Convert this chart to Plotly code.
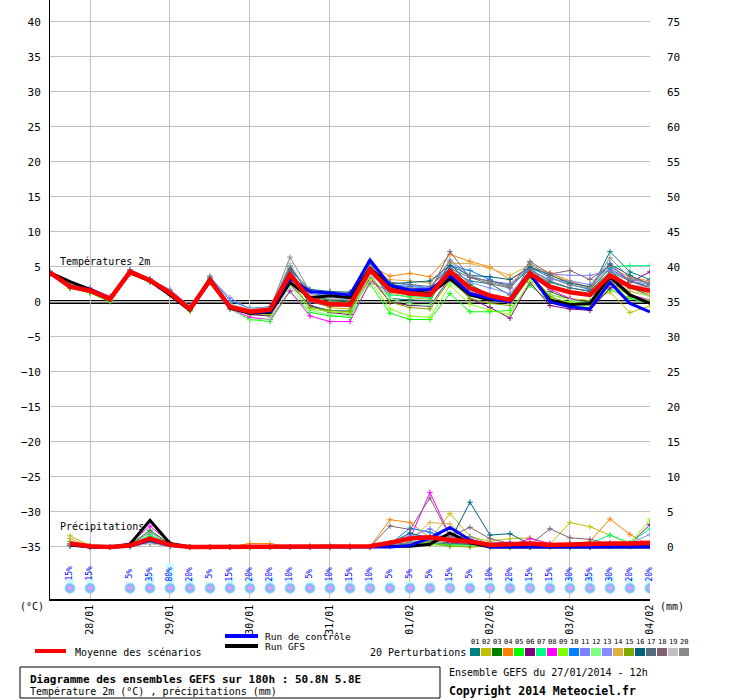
import pandas as pd
import plotly.graph_objects as go

# run GEFS du 27/01/2014 12h, pas de 6h jusqu'a 180h
run_start = pd.Timestamp("2014-01-27 12:00")
lead_hours = [0, 6, 12, 18, 24, 30, 36, 42, 48, 54, 60, 66, 72, 78, 84, 90,
              96, 102, 108, 114, 120, 126, 132, 138, 144, 150, 156, 162, 168, 174, 180]
day_labels = ["28/01", "29/01", "30/01", "31/01", "01/02", "02/02", "03/02", "04/02"]

# temperatures 2m (degC)
temp_mean = [4.2, 2.2, 1.6, 0.4, 4.3, 3.1, 1.3, -1.0, 3.1, -0.7, -1.4, -1.1, 3.9, 0.4, -0.3, -0.4,
             4.6, 1.7, 1.2, 1.0, 4.4, 2.0, 0.9, 0.3, 4.1, 2.2, 1.4, 1.0, 3.8, 2.2, 1.6]
temp_gfs = [4.2, 2.9, 1.8, 0.5, 4.2, 3.0, 1.0, -1.2, 3.3, -0.9, -1.6, -1.5, 2.8, 0.6, 0.9, 0.6,
            4.8, 2.4, 1.5, 1.2, 3.3, 1.0, 0.3, 0.3, 3.9, 0.3, -0.4, -0.2, 3.6, 1.0, -0.2]
temp_ctrl = [4.1, 2.3, 1.7, 0.3, 4.4, 3.0, 1.2, -1.1, 3.0, -0.8, -1.5, -1.3, 3.4, 1.5, 1.3, 1.0,
             6.0, 2.4, 1.7, 1.8, 3.8, 1.2, 0.5, 0.0, 4.1, 0.0, -0.7, -1.0, 2.8, -0.2, -1.4]
temp_01 = [4.0, 2.0, 1.5, 0.3, 4.2, 3.2, 1.4, -1.1, 3.2, -0.5, -1.8, -1.6, 4.5, -0.5, -1.2, -1.3,
           4.9, 0.5, 0.3, 0.2, 4.5, 3.0, 2.6, 1.0, 4.2, 2.8, 2.0, 1.5, 7.2, 4.3, 3.2]
temp_02 = [4.0, 2.1, 1.6, 0.4, 4.1, 3.0, 1.3, -1.1, 3.0, -0.6, -1.5, -1.3, 3.5, 0.2, -0.8, -1.0,
           4.2, 1.3, 0.6, 0.4, 4.0, 1.5, 0.5, -0.2, 3.8, 1.0, 0.5, 0.2, 1.4, -1.5, -0.6]
temp_03 = [4.2, 2.1, 1.5, 0.5, 4.5, 3.2, 1.5, -0.9, 3.4, -0.5, -1.3, -1.0, 5.2, 0.8, 0.2, 0.0,
           5.7, 2.2, 1.0, 0.8, 5.5, 2.5, 1.0, 0.2, 5.3, 1.5, 0.4, 0.0, 4.5, 2.0, 1.0]
temp_04 = [3.9, 2.0, 1.4, 0.3, 4.2, 3.0, 1.5, -0.9, 2.8, -0.4, -1.0, -0.7, 4.8, 1.5, 1.2, 1.3,
           5.2, 3.7, 4.1, 3.6, 6.8, 5.8, 5.0, 3.2, 4.8, 4.2, 3.0, 2.0, 5.0, 3.5, 3.0]
temp_05 = [4.0, 2.0, 1.3, 0.0, 4.0, 2.8, 1.0, -1.3, 2.7, -1.0, -2.5, -2.8, 1.5, -1.5, -2.0, -2.2,
           2.6, -1.6, -2.5, -2.5, 1.2, -1.4, -1.4, -1.2, 2.4, 0.0, -0.5, -0.8, 1.8, 0.5, -0.2]
temp_06 = [4.1, 2.2, 1.7, 0.5, 4.3, 3.1, 1.3, -1.0, 3.0, -0.9, -1.8, -2.0, 2.5, -0.5, -1.5, -1.8,
           3.5, 0.0, -0.5, -0.6, 3.5, 0.5, -0.8, -2.3, 2.8, -0.5, -1.0, -1.2, 2.0, 2.8, 4.3]
temp_07 = [4.2, 2.3, 1.8, 0.6, 4.4, 3.2, 1.4, -0.8, 3.3, -0.3, -1.2, -1.0, 4.0, 0.5, 0.0, -0.2,
           4.3, 1.0, 0.8, 0.6, 4.0, 1.8, 1.0, 0.5, 4.0, 2.0, 1.5, 1.2, 5.0, 5.2, 5.2]
temp_08 = [4.0, 2.2, 2.0, 0.8, 4.0, 2.9, 1.2, -1.2, 2.8, -1.0, -2.2, -2.5, 1.6, -2.0, -2.8, -2.8,
           2.9, 1.5, 1.8, 1.6, 3.6, 1.4, 0.8, 0.5, 3.8, 1.8, 0.5, -0.3, 3.2, 1.0, 0.3]
temp_09 = [4.1, 2.0, 1.4, 0.2, 4.1, 2.9, 1.1, -1.2, 3.0, -0.8, -1.6, -1.8, 3.0, -1.0, -1.4, -1.6,
           3.2, -1.0, -2.0, -2.2, 2.4, -0.3, -1.2, -1.8, 3.0, 0.6, 0.0, -0.3, 2.6, 0.8, 0.2]
temp_10 = [4.3, 2.4, 1.8, 0.5, 4.6, 3.3, 1.6, -0.8, 3.6, 0.2, -0.9, -0.7, 5.0, 1.2, 0.9, 0.8,
           5.8, 2.5, 2.2, 2.0, 5.2, 4.5, 3.2, 2.0, 5.0, 3.5, 2.5, 1.8, 4.8, 3.0, 2.0]
temp_11 = [4.2, 2.2, 1.7, 0.5, 4.5, 3.2, 1.8, -0.6, 3.5, 0.6, -1.0, -0.8, 4.2, 0.0, -0.5, -0.6,
           5.3, 2.8, 2.4, 2.0, 5.8, 3.5, 3.0, 2.6, 5.0, 4.0, 3.8, 3.8, 4.5, 3.2, 2.8]
temp_12 = [4.0, 2.1, 1.6, 0.3, 4.2, 3.0, 1.2, -1.0, 3.0, -0.9, -2.6, -2.4, 2.2, -1.2, -1.8, -2.0,
           3.8, 0.5, -0.3, -0.5, 2.8, 0.8, 0.5, 0.2, 3.4, 1.0, 0.3, -0.2, 3.0, 1.5, 0.8]
temp_13 = [4.1, 2.2, 1.6, 0.4, 4.3, 3.1, 1.5, -0.8, 3.3, -0.6, -1.2, -1.0, 4.4, 0.8, 0.5, 0.3,
           4.8, 2.0, 1.5, 1.3, 5.0, 2.8, 2.0, 1.2, 4.5, 3.2, 3.0, 2.5, 5.5, 3.0, 2.5]
temp_14 = [4.2, 2.3, 1.7, 0.6, 4.4, 3.2, 1.6, -0.7, 3.4, -0.4, -1.1, -0.9, 4.0, 1.0, 0.8, 0.7,
           4.5, 3.2, 3.0, 2.7, 5.5, 5.5, 4.8, 3.8, 5.3, 4.0, 2.8, 2.0, 3.5, 1.5, 1.0]
temp_15 = [4.0, 2.0, 1.5, 0.2, 4.1, 2.9, 1.2, -1.1, 2.9, -0.8, -1.7, -1.6, 3.2, -0.8, -1.2, -1.4,
           3.9, 0.0, -0.8, -1.0, 3.2, 0.5, -0.2, -0.5, 3.6, 0.8, -0.3, -0.5, 3.0, 0.8, 0.0]
temp_16 = [4.3, 2.4, 1.7, 0.5, 4.4, 3.1, 1.4, -0.9, 3.2, -0.6, -1.3, -1.2, 4.6, 1.8, 1.5, 1.4,
           5.5, 2.6, 2.8, 3.0, 5.2, 3.8, 3.6, 3.2, 5.0, 3.8, 2.7, 2.2, 5.4, 3.8, 2.5]
temp_17 = [4.2, 2.2, 1.6, 0.4, 4.4, 3.1, 1.3, -1.0, 3.1, -0.7, -1.5, -1.3, 4.2, 0.9, 0.3, 0.2,
           4.6, 2.8, 2.5, 2.2, 4.8, 3.5, 3.0, 2.4, 4.6, 3.0, 2.0, 1.6, 4.3, 3.0, 2.2]
temp_18 = [4.1, 2.1, 1.6, 0.5, 4.3, 3.0, 1.2, -1.0, 3.0, -0.7, -1.4, -1.2, 4.8, 0.0, -0.6, -0.5,
           5.0, 2.0, 1.6, 1.5, 7.2, 3.5, 2.6, 2.0, 5.8, 4.0, 4.5, 3.2, 5.2, 3.0, 2.0]
temp_19 = [4.3, 2.5, 1.8, 0.7, 4.5, 3.3, 1.5, -0.7, 3.5, -0.3, -1.0, -0.8, 5.5, 1.0, 0.5, 0.4,
           3.8, 1.8, 1.5, 1.2, 3.0, 1.5, 1.0, 0.5, 4.0, 2.0, 1.5, 1.0, 4.0, 2.5, 2.0]
temp_20 = [4.4, 2.3, 1.7, 0.6, 4.6, 3.3, 1.6, -0.8, 3.7, -0.5, -1.2, -1.0, 6.4, 1.5, 1.0, 0.9,
           5.2, 2.5, 2.0, 1.8, 6.0, 3.8, 2.8, 2.2, 5.6, 3.5, 2.4, 2.0, 6.3, 3.4, 2.6]

# precipitations (mm / 6h)
rain_mean = [None, 0.5, 0.1, 0.0, 0.2, 1.2, 0.3, 0.0, 0.0, 0.0, 0.0, 0.0, 0.0, 0.0, 0.0, 0.0,
             0.1, 0.6, 1.2, 1.4, 1.0, 0.8, 0.3, 0.4, 0.5, 0.3, 0.4, 0.4, 0.5, 0.5, 0.6]
rain_gfs = [None, 0.3, 0.0, 0.0, 0.4, 3.8, 0.5, 0.0, 0.0, 0.0, 0.0, 0.0, 0.0, 0.0, 0.0, 0.0,
            0.0, 0.0, 0.1, 0.4, 2.0, 0.6, 0.0, 0.0, 0.0, 0.0, 0.0, 0.0, 0.0, 0.0, 0.0]
rain_ctrl = [None, 0.4, 0.0, 0.0, 0.1, 1.0, 0.2, 0.0, 0.0, 0.0, 0.0, 0.0, 0.0, 0.0, 0.0, 0.0,
             0.0, 0.0, 0.2, 1.3, 2.8, 1.0, 0.0, 0.0, 0.0, 0.0, 0.0, 0.0, 0.0, 0.0, 0.0]
rain_01 = [None, 0.3, 0.0, 0.0, 0.2, 0.9, 0.2, 0.0, 0.0, 0.0, 0.0, 0.0, 0.0, 0.0, 0.0, 0.0,
           0.0, 0.6, 1.0, 1.6, 0.7, 0.5, 0.3, 0.1, 0.0, 0.1, 0.0, 0.1, 0.2, 0.1, 0.2]
rain_02 = [None, 1.6, 0.2, 0.0, 0.1, 0.6, 0.3, 0.0, 0.0, 0.0, 0.0, 0.0, 0.0, 0.0, 0.0, 0.0,
           0.0, 0.2, 0.6, 1.0, 4.8, 1.5, 0.8, 1.2, 1.3, 0.4, 3.5, 2.9, 1.7, 0.4, 0.3]
rain_03 = [None, 0.5, 0.0, 0.0, 0.3, 2.4, 0.4, 0.0, 0.0, 0.0, 0.0, 0.0, 0.0, 0.0, 0.0, 0.0,
           0.0, 0.2, 0.5, 0.8, 0.3, 0.2, 0.1, 0.0, 0.0, 0.1, 0.1, 0.0, 0.2, 0.1, 0.1]
rain_04 = [None, 0.2, 0.0, 0.0, 0.1, 0.8, 0.2, 0.0, 0.0, 0.0, 0.5, 0.5, 0.0, 0.0, 0.0, 0.0,
           0.0, 3.9, 3.5, 1.3, 0.6, 0.3, 0.2, 0.1, 0.3, 0.2, 0.4, 0.8, 4.0, 1.8, 0.2]
rain_05 = [None, 0.4, 0.1, 0.0, 0.2, 1.5, 0.3, 0.0, 0.0, 0.0, 0.0, 0.0, 0.0, 0.0, 0.0, 0.0,
           0.0, 0.1, 0.4, 0.6, 0.2, 0.2, 0.0, 0.1, 0.2, 0.0, 0.1, 0.1, 0.3, 0.5, 0.2]
rain_06 = [None, 0.3, 0.0, 0.0, 0.1, 1.0, 0.2, 0.0, 0.0, 0.0, 0.0, 0.0, 0.0, 0.0, 0.0, 0.0,
           0.0, 0.1, 0.3, 0.4, 0.6, 0.3, 0.2, 0.1, 0.0, 0.1, 0.5, 0.6, 0.3, 0.4, 3.2]
rain_07 = [None, 0.3, 0.0, 0.0, 0.2, 1.8, 0.3, 0.0, 0.0, 0.0, 0.0, 0.0, 0.0, 0.0, 0.0, 0.0,
           0.0, 0.1, 0.3, 0.5, 0.4, 0.3, 0.1, 0.0, 0.1, 0.2, 0.3, 0.5, 1.7, 0.6, 2.6]
rain_08 = [None, 0.4, 0.1, 0.0, 0.5, 3.0, 0.6, 0.0, 0.0, 0.0, 0.0, 0.0, 0.0, 0.0, 0.0, 0.0,
           0.0, 0.2, 1.2, 7.8, 1.6, 0.6, 0.4, 0.2, 1.2, 0.5, 0.2, 0.1, 0.3, 0.2, 0.4]
rain_09 = [None, 0.5, 0.0, 0.0, 0.2, 1.3, 0.2, 0.0, 0.0, 0.0, 0.0, 0.0, 0.0, 0.0, 0.0, 0.0,
           0.0, 0.1, 0.2, 0.3, 0.2, 0.1, 0.0, 0.0, 0.1, 0.1, 0.2, 0.1, 0.3, 0.6, 3.9]
rain_10 = [None, 0.2, 0.0, 0.0, 0.2, 1.2, 0.3, 0.0, 0.0, 0.0, 0.0, 0.0, 0.0, 0.0, 0.0, 0.0,
           0.0, 0.4, 2.7, 2.1, 1.0, 0.4, 0.3, 0.1, 0.2, 0.1, 0.0, 0.1, 0.2, 0.3, 0.5]
rain_11 = [None, 0.3, 0.0, 0.0, 0.1, 0.9, 0.2, 0.0, 0.0, 0.0, 0.0, 0.0, 0.0, 0.2, 0.3, 0.2,
           0.0, 0.3, 1.5, 2.6, 1.0, 0.5, 0.6, 0.7, 0.4, 0.2, 0.3, 0.2, 0.5, 0.3, 0.4]
rain_12 = [None, 0.4, 0.0, 0.0, 0.1, 0.7, 0.2, 0.0, 0.0, 0.0, 0.0, 0.0, 0.0, 0.0, 0.0, 0.0,
           0.0, 0.1, 0.3, 0.5, 0.1, 0.1, 0.2, 0.3, 0.2, 0.0, 0.1, 0.2, 0.1, 0.3, 0.6]
rain_13 = [None, 0.2, 0.0, 0.0, 0.2, 0.8, 0.2, 0.0, 0.0, 0.0, 0.0, 0.0, 0.0, 0.0, 0.0, 0.0,
           0.0, 0.2, 1.8, 1.5, 0.8, 0.9, 0.2, 0.4, 0.3, 0.2, 0.2, 0.4, 0.6, 0.5, 1.8]
rain_14 = [None, 1.2, 0.1, 0.0, 0.1, 0.5, 0.1, 0.0, 0.0, 0.0, 0.0, 0.0, 0.0, 0.0, 0.0, 0.0,
           0.0, 0.3, 1.0, 3.5, 3.3, 0.8, 0.5, 0.3, 0.2, 0.1, 0.1, 0.2, 0.3, 0.2, 0.1]
rain_15 = [None, 0.8, 0.1, 0.0, 0.1, 0.6, 0.2, 0.0, 0.0, 0.0, 0.0, 0.0, 0.0, 0.0, 0.0, 0.0,
           0.0, 0.2, 0.4, 0.6, 0.1, 0.0, 0.1, 0.0, 0.1, 0.1, 0.0, 0.1, 0.2, 0.1, 0.3]
rain_16 = [None, 0.3, 0.0, 0.0, 0.1, 0.6, 0.1, 0.0, 0.0, 0.0, 0.0, 0.0, 0.0, 0.0, 0.0, 0.0,
           0.0, 0.5, 2.0, 1.2, 0.8, 6.4, 1.7, 1.9, 0.4, 0.2, 0.1, 0.0, 0.1, 0.2, 0.3]
rain_17 = [None, 0.2, 0.0, 0.0, 0.1, 0.7, 0.2, 0.0, 0.0, 0.0, 0.0, 0.0, 0.0, 0.0, 0.0, 0.0,
           0.0, 0.3, 0.7, 1.0, 0.5, 0.4, 0.2, 0.1, 0.1, 0.1, 0.1, 0.0, 0.2, 0.2, 0.2]
rain_18 = [None, 0.3, 0.0, 0.0, 0.2, 0.9, 0.3, 0.0, 0.0, 0.0, 0.0, 0.0, 0.0, 0.0, 0.0, 0.0,
           0.0, 3.0, 2.5, 7.0, 1.5, 2.8, 1.2, 0.5, 0.3, 2.6, 1.3, 1.1, 0.4, 0.2, 0.5]
rain_19 = [None, 0.4, 0.0, 0.0, 0.1, 0.5, 0.1, 0.0, 0.0, 0.0, 0.0, 0.0, 0.0, 0.0, 0.0, 0.0,
           0.0, 0.1, 0.3, 0.5, 0.9, 1.2, 0.3, 0.2, 0.1, 0.0, 0.1, 0.1, 0.2, 0.1, 0.1]
rain_20 = [None, 0.5, 0.1, 0.0, 0.3, 2.1, 0.4, 0.0, 0.0, 0.0, 0.0, 0.0, 0.0, 0.0, 0.0, 0.0,
           0.0, 0.2, 0.5, 0.9, 1.4, 1.5, 0.4, 0.2, 0.5, 0.4, 0.2, 0.1, 0.3, 0.3, 0.3]

# probabilite de neige (%)
snow_pct = [None, 15, 15, None, 5, 35, 80, 20, 5, 15, 20, 20, 10, 5, 10, 15,
            10, 5, 5, 5, 15, 5, 10, 20, 15, 15, 30, 35, 30, 20, 20]

member_names = ["01", "02", "03", "04", "05", "06", "07", "08", "09", "10",
                "11", "12", "13", "14", "15", "16", "17", "18", "19", "20"]
member_colors = ["#008080", "#c0c000", "#008000", "#ff8000", "#00ff00", "#800080", "#00ff80",
                 "#ff00ff", "#80ff00", "#0080ff", "#8080ff", "#80ff80", "#8888ff", "#e0b040",
                 "#80a800", "#006080", "#507080", "#806070", "#c0c0c0", "#888888"]

temp_members = [temp_01, temp_02, temp_03, temp_04, temp_05, temp_06, temp_07, temp_08, temp_09, temp_10,
                temp_11, temp_12, temp_13, temp_14, temp_15, temp_16, temp_17, temp_18, temp_19, temp_20]
rain_members = [rain_01, rain_02, rain_03, rain_04, rain_05, rain_06, rain_07, rain_08, rain_09, rain_10,
                rain_11, rain_12, rain_13, rain_14, rain_15, rain_16, rain_17, rain_18, rain_19, rain_20]

times = [run_start + pd.Timedelta(hours=h) for h in lead_hours]

FONT = "DejaVu Sans Mono"
W, H = 740, 700
ML, MR, MT, MB = 50, 90, 0, 101


def px(x):
    return (x - ML) / (W - ML - MR)


def py(y):
    return (H - MB - y) / (H - MT - MB)


fig = go.Figure()

for vals, col in zip(temp_members, member_colors):
    fig.add_trace(go.Scatter(x=times, y=vals, mode="lines+markers", line=dict(color=col, width=1),
                             marker=dict(symbol="cross-thin", size=4, line=dict(color=col, width=1))))
for vals, col in zip(rain_members, member_colors):
    fig.add_trace(go.Scatter(x=times, y=vals, yaxis="y2", mode="lines+markers",
                             line=dict(color=col, width=1),
                             marker=dict(symbol="cross-thin", size=4, line=dict(color=col, width=1))))

fig.add_trace(go.Scatter(x=times, y=temp_gfs, mode="lines", line=dict(color="black", width=3)))
fig.add_trace(go.Scatter(x=times, y=temp_ctrl, mode="lines", line=dict(color="#0000ff", width=3)))
fig.add_trace(go.Scatter(x=times, y=rain_gfs, yaxis="y2", mode="lines", line=dict(color="black", width=3)))
fig.add_trace(go.Scatter(x=times, y=rain_ctrl, yaxis="y2", mode="lines", line=dict(color="#0000ff", width=3)))
fig.add_trace(go.Scatter(x=times, y=temp_mean, mode="lines", line=dict(color="#ff0000", width=4.5)))
fig.add_trace(go.Scatter(x=times, y=rain_mean, yaxis="y2", mode="lines", line=dict(color="#ff0000", width=4.5)))

# snow probability: cyan bar, blue text, snowflake
snow_t = [t for t, p in zip(times, snow_pct) if p is not None]
snow_v = [p for p in snow_pct if p is not None]
fig.add_trace(go.Bar(x=snow_t, y=[p / 28 for p in snow_v], base=-40.15, width=8640000,
                     marker=dict(color="#ccffff", line=dict(width=0))))
fig.add_trace(go.Scatter(x=snow_t, y=[-40.9] * len(snow_t), mode="markers",
                         marker=dict(symbol="circle", size=10, color="#5ac8f0",
                                     line=dict(color="#a0d8f8", width=1))))
fig.add_trace(go.Scatter(x=snow_t, y=[-40.9] * len(snow_t), mode="markers",
                         marker=dict(symbol="asterisk-open", size=7, line=dict(color="#d8f0ff", width=1))))

annotations = []
for t, p in zip(snow_t, snow_v):
    annotations.append(dict(x=t, y=-38.8, xref="x", yref="y", text=f"{p}%", textangle=-90,
                            showarrow=False, font=dict(family=FONT, size=8, color="#0000ff")))


def label(x, y, text, size=10, bold=False, anchor="left"):
    if bold:
        text = f"<b>{text}</b>"
    annotations.append(dict(x=px(x), y=py(y), xref="paper", yref="paper", text=text, showarrow=False,
                            xanchor=anchor, yanchor="middle", font=dict(family=FONT, size=size, color="black")))


label(58, 261, "Températures 2m")
label(58, 526, "Précipitations")
label(18, 606, "(°C)")
label(658, 606, "(mm)")
label(73, 652, "Moyenne des scénarios")
label(263, 636, "Run de contrôle", size=9.5)
label(263, 647, "Run GFS", size=9.5)
label(368, 652, "20 Perturbations")
label(28, 679, "Diagramme des ensembles GEFS sur 180h : 50.8N 5.8E", size=11, bold=True)
label(28, 691, "Température 2m (°C) , précipitations (mm)")
label(447, 672, "Ensemble GEFS du 27/01/2014 - 12h")
label(447, 691, "Copyright 2014 Meteociel.fr", size=11.5, bold=True)

shapes = [
    dict(type="line", xref="paper", yref="y", x0=0, x1=1, y0=0, y1=0, layer="between",
         line=dict(color="black", width=4)),
    dict(type="line", xref="paper", yref="y", x0=0, x1=1, y0=0, y1=0, layer="between",
         line=dict(color="white", width=1)),
    dict(type="line", xref="paper", yref="paper", x0=px(35), x1=px(66), y0=py(651), y1=py(651),
         line=dict(color="#ff0000", width=4)),
    dict(type="line", xref="paper", yref="paper", x0=px(225), x1=px(258), y0=py(636), y1=py(636),
         line=dict(color="#0000ff", width=4)),
    dict(type="line", xref="paper", yref="paper", x0=px(225), x1=px(258), y0=py(646), y1=py(646),
         line=dict(color="black", width=4)),
    dict(type="rect", xref="paper", yref="paper", x0=px(20), x1=px(440), y0=py(667), y1=py(698),
         line=dict(color="black", width=1)),
]
for k, (name, col) in enumerate(zip(member_names, member_colors)):
    x0 = 470 + 11 * k
    shapes.append(dict(type="rect", xref="paper", yref="paper", x0=px(x0), x1=px(x0 + 10),
                       y0=py(648), y1=py(656), fillcolor=col, line=dict(width=0)))
    annotations.append(dict(x=px(x0 + 5), y=py(642), xref="paper", yref="paper", text=name,
                            showarrow=False, xanchor="center", yanchor="middle",
                            font=dict(family=FONT, size=7, color="black")))

ymin, ymax = -42.43, 43.14
tick_days = pd.date_range("2014-01-28", periods=len(day_labels), freq="D")

fig.update_layout(
    width=W, height=H, margin=dict(l=ML, r=MR, t=MT, b=MB, pad=0),
    paper_bgcolor="white", plot_bgcolor="white", showlegend=False, hovermode=False,
    font=dict(family=FONT, size=11, color="black"),
    xaxis=dict(type="date", range=[run_start, pd.Timestamp("2014-02-04 00:01")],
               tickvals=list(tick_days), ticktext=day_labels, tickangle=-90,
               tickfont=dict(family=FONT, size=10), showgrid=True, gridcolor="#c0c0c0", gridwidth=1,
               showline=True, linecolor="black", linewidth=1.5, zeroline=False, ticks=""),
    yaxis=dict(range=[ymin, ymax], tickvals=list(range(-35, 45, 5)), showgrid=True,
               gridcolor="#c0c0c0", gridwidth=1, zeroline=False, showline=True, linecolor="black",
               linewidth=1, ticks="", ticklabelstandoff=6, tickfont=dict(family=FONT, size=11)),
    yaxis2=dict(range=[ymin + 35, ymax + 35], tickvals=list(range(0, 80, 5)), overlaying="y",
                side="right", showgrid=False, zeroline=False, showline=False, ticks="",
                ticklabelstandoff=16, tickfont=dict(family=FONT, size=11)),
    shapes=shapes, annotations=annotations,
)

# la page par defaut a une marge de 8px autour du graphique
fig.write_html("out.html", config={"displayModeBar": False},
               post_script="document.body.style.margin = '0';")
